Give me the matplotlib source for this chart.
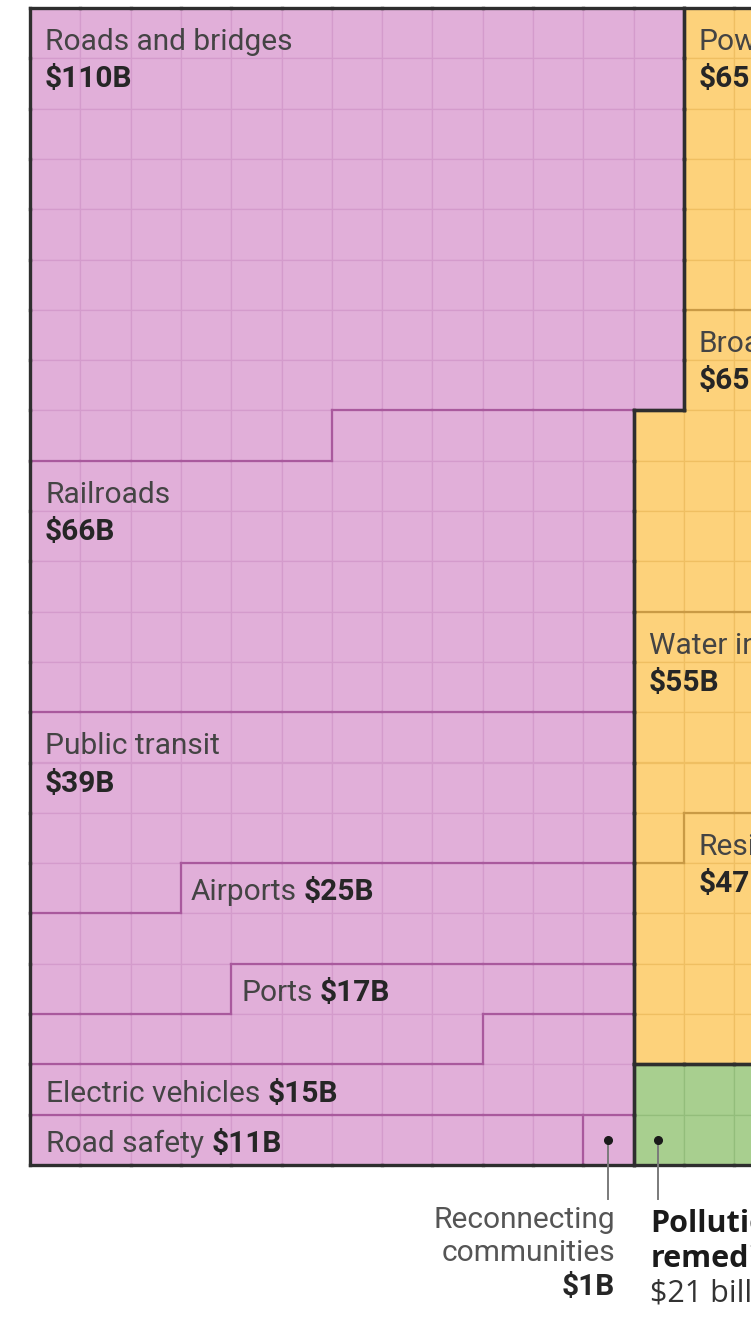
import numpy as np
import matplotlib.pyplot as plt
from matplotlib.collections import LineCollection
from matplotlib.patches import Rectangle

plt.rcParams['font.family'] = ['Roboto', 'DejaVu Sans']

# one square = $1B, filled row by row inside each group's block
pink_names = ['Roads and bridges', 'Railroads', 'Public transit', 'Airports', 'Ports',
              'Electric vehicles', 'Road safety', 'Reconnecting communities']
pink_values = [110, 66, 39, 25, 17, 15, 11, 1]
yellow_names = ['Power', 'Broadband', 'Water infrastructure', 'Resilience']
yellow_values = [65, 65, 55, 47]
green_names = ['Pollution remediation']
green_values = [21]

# block shapes: (row start, row end, col start, col end)
pink_block = [(0, 8, 0, 13), (8, 23, 0, 12)]
yellow_block = [(0, 8, 13, 24), (8, 21, 12, 24)]
green_block = [(21, 23, 12, 24)]

callouts = ['Reconnecting communities', 'Pollution remediation']

fill = ['#e1afd9', '#fdd27b', '#a8cf8f']
grid = ['#d49bcc', '#efbf62', '#93bd7b']
sub_line = ['#a9599d', '#c99a45', '#6f9c58']
dark = '#2e2e2e'

NR, NC = 23, 24
s, x0, y0 = 50.3, 30, 8
W, H = 751, 1323

fig = plt.figure(figsize=(W / 100, H / 100), dpi=100)
ax = fig.add_axes([0, 0, 1, 1])
ax.set_xlim(-x0 / s, (W - x0) / s)
ax.set_ylim((H - y0) / s, -y0 / s)
ax.axis('off')


def block_cells(spans):
    out = []
    for r0, r1, c0, c1 in spans:
        for r in range(r0, r1):
            for c in range(c0, c1):
                out.append((r, c))
    return out


grp = np.full((NR, NC), -1)
cat = np.full((NR, NC), -1)
cats = []  # (name, value, group, cells)
for g, (block, names, values) in enumerate([(pink_block, pink_names, pink_values),
                                             (yellow_block, yellow_names, yellow_values),
                                             (green_block, green_names, green_values)]):
    cells = block_cells(block)
    for r, c in cells:
        grp[r, c] = g
    i = 0
    for name, v in zip(names, values):
        mine = cells[i:i + v]
        i += v
        for r, c in mine:
            cat[r, c] = len(cats)
        cats.append((name, v, g, mine))

# squares
for r in range(NR):
    for c in range(NC):
        g = grp[r, c]
        if g < 0:
            continue
        ax.add_patch(Rectangle((c, r), 1, 1, facecolor=fill[g], edgecolor=grid[g], lw=0.9))

# boundaries between categories and groups
segs_dark = []
segs_sub = {0: [], 1: [], 2: []}
for r in range(NR):
    for c in range(NC):
        g = grp[r, c]
        if g < 0:
            continue
        for dr, dc in [(0, 1), (1, 0), (0, -1), (-1, 0)]:
            rr, cc = r + dr, c + dc
            if dc == 1:
                seg = [(c + 1, r), (c + 1, r + 1)]
            elif dc == -1:
                seg = [(c, r), (c, r + 1)]
            elif dr == 1:
                seg = [(c, r + 1), (c + 1, r + 1)]
            else:
                seg = [(c, r), (c + 1, r)]
            inside = 0 <= rr < NR and 0 <= cc < NC
            if not inside or grp[rr, cc] != g:
                segs_dark.append(seg)
            elif (dr, dc) in [(0, 1), (1, 0)]:
                a, b = cat[r, c], cat[rr, cc]
                if a != b and a >= 0 and b >= 0:
                    segs_sub[g].append(seg)

for g in segs_sub:
    ax.add_collection(LineCollection(segs_sub[g], colors=sub_line[g], lw=1.6,
                                     capstyle='projecting', zorder=3))
ax.add_collection(LineCollection(segs_dark, colors=dark, lw=2.4,
                                 capstyle='projecting', zorder=4))

fs = 21.5
name_kw = dict(fontsize=fs, color='#444444', va='baseline', ha='left', zorder=5)
val_kw = dict(fontsize=fs, color='#262626', va='baseline', ha='left',
              fontweight='bold', zorder=5)

fig.canvas.draw()
renderer = fig.canvas.get_renderer()

for name, v, g, cells in cats:
    if name in callouts:
        continue
    rows = {}
    for r, c in cells:
        rows.setdefault(r, []).append(c)
    lr = next(r for r in sorted(rows) if len(rows[r]) >= 8)
    col = min(rows[lr])
    if v < 30:
        xo = 0.2 if col > 0 else 0.32
        t = ax.text(col + xo, lr + 0.74, name, **name_kw)
        bb = t.get_window_extent(renderer)
        xe = ax.transData.inverted().transform((bb.x1, bb.y0))[0]
        ax.text(xe + 0.14, lr + 0.74, f'${v}B', **val_kw)
    else:
        ax.text(col + 0.3, lr + 0.84, name, **name_kw)
        ax.text(col + 0.3, lr + 1.58, f'${v}B', **val_kw)

# callouts below the grid
for name, v, g, cells in cats:
    if name not in callouts:
        continue
    if g == 0:
        r, c = cells[-1]
    else:
        last = max(rr for rr, cc in cells)
        r, c = last, min(cc for rr, cc in cells if rr == last)
    cx, cy = c + 0.49, r + 0.5
    ax.plot([cx, cx], [cy, 23.68], color='#7a7a7a', lw=1.4, zorder=6, clip_on=False)
    ax.plot(cx, cy, 'o', color='#1a1a1a', ms=5.5, zorder=7)
    words = name.split()
    if g == 0:
        tx = cx + 0.14
        ax.text(tx, 24.25, words[0], ha='right', va='baseline', fontsize=21.5, color='#555555')
        ax.text(tx, 24.91, words[1], ha='right', va='baseline', fontsize=21.5, color='#555555')
        ax.text(tx, 25.59, f'${v}B', ha='right', va='baseline', fontsize=21.5,
                color='#262626', fontweight='bold')
    else:
        tx = cx - 0.16
        ax.text(tx, 24.34, words[0], ha='left', va='baseline', fontsize=22,
                color='#1a1a1a', fontweight='bold', family=['Open Sans', 'DejaVu Sans'])
        ax.text(tx, 25.02, words[1], ha='left', va='baseline', fontsize=22,
                color='#1a1a1a', fontweight='bold', family=['Open Sans', 'DejaVu Sans'])
        ax.text(tx, 25.72, f'${v} billion', ha='left', va='baseline', fontsize=22,
                color='#333333', family=['Open Sans', 'DejaVu Sans'])

fig.savefig('out.png', dpi=100)
